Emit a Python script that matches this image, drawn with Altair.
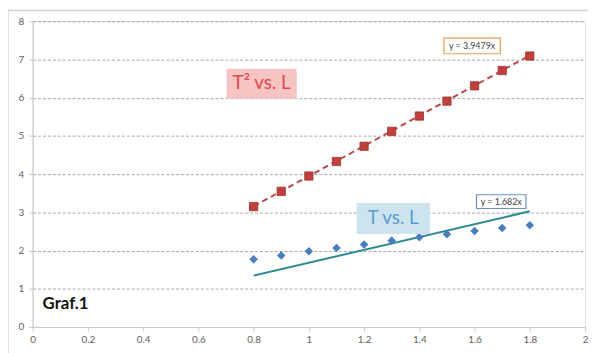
import altair as alt
import pandas as pd

L = [0.8, 0.9, 1.0, 1.1, 1.2, 1.3, 1.4, 1.5, 1.6, 1.7, 1.8]
T = [1.77, 1.87, 1.98, 2.07, 2.16, 2.26, 2.35, 2.43, 2.51, 2.59, 2.66]
T2 = [3.15, 3.55, 3.95, 4.33, 4.73, 5.12, 5.52, 5.91, 6.31, 6.71, 7.09]

slope_T = 1.682
slope_T2 = 3.9479
fit_x = [0.8, 1.8]

x_ticks = [0, 0.2, 0.4, 0.6, 0.8, 1, 1.2, 1.4, 1.6, 1.8, 2]
y_ticks = [0, 1, 2, 3, 4, 5, 6, 7, 8]

df = pd.DataFrame({"L": L, "T": T, "T2": T2})
fit = pd.DataFrame({"L": fit_x,
                    "fT": [slope_T * v for v in fit_x],
                    "fT2": [slope_T2 * v for v in fit_x]})

W, H = 560, 310
xs = alt.Scale(domain=[0, 2], nice=False)
ys = alt.Scale(domain=[0, 8], nice=False)

xaxis = alt.Axis(values=x_ticks,
                 labelExpr="datum.value == 0 ? '0' : datum.value == 1 ? '1' : datum.value == 2 ? '2' : format(datum.value, '.1f')",
                 grid=False, title=None, domainColor="#c8c8c8", tickColor="#c8c8c8",
                 tickSize=4, labelColor="#606060", labelFontSize=10, labelPadding=4,
                 labelFont="Lato", labelFlush=False, labelOverlap=False)
yaxis = alt.Axis(values=y_ticks, grid=True, gridDash=[3, 2], gridColor="#a8a8a8",
                 gridWidth=1, title=None, domainColor="#c8c8c8", tickColor="#c8c8c8",
                 tickSize=4, labelColor="#606060", labelFontSize=10, labelPadding=5,
                 labelFont="Lato", labelOverlap=False)


def X(field):
    return alt.X(field, scale=xs, axis=xaxis)


def Y(field):
    return alt.Y(field, scale=ys, axis=yaxis)


base = alt.Chart(df)

frame = alt.Chart(pd.DataFrame({"a": [0]})).mark_rect(
    fill=None, stroke="#d4d4d4", strokeWidth=1.5).encode(
    x=alt.value(-25), x2=alt.value(W + 30), y=alt.value(-11), y2=alt.value(H + 60))

line_T2 = alt.Chart(fit).mark_line(color="#b84a48", strokeWidth=2, strokeDash=[6, 4]).encode(
    x=X("L:Q"), y=Y("fT2:Q"))
line_T = alt.Chart(fit).mark_line(color="#2f8a96", strokeWidth=2).encode(
    x=X("L:Q"), y=Y("fT:Q"))

pts_T2 = base.mark_point(shape="square", filled=True, size=70, color="#c0403e", opacity=1,
                         stroke="#a03030", strokeWidth=0.8).encode(
    x=X("L:Q"), y=Y("T2:Q"))
pts_T = base.mark_point(shape="diamond", filled=True, size=75, color="#4a7ebf", opacity=1).encode(
    x=X("L:Q"), y=Y("T:Q"))

# annotation boxes (data units)
boxes = pd.DataFrame({
    "x1": [0.704, 1.175, 1.489, 1.607],
    "x2": [0.954, 1.436, 1.693, 1.786],
    "y1": [5.99, 2.45, 7.15, 3.10],
    "y2": [6.74, 3.23, 7.56, 3.46],
    "fill": ["#f7c4c4", "#cde4ef", "#ffffff", "#ffffff"],
    "stroke": ["#f7c4c4", "#cde4ef", "#e8a050", "#6d90c4"],
})
rects = alt.Chart(boxes).mark_rect(strokeWidth=1.2).encode(
    x=X("x1:Q"), x2="x2:Q",
    y=Y("y1:Q"), y2="y2:Q",
    fill=alt.Fill("fill:N", scale=None), stroke=alt.Stroke("stroke:N", scale=None))

labels = pd.DataFrame({
    "x": [0.829, 1.305, 1.591, 1.6965],
    "y": [6.37, 2.84, 7.355, 3.28],
    "text": ["T² vs. L", "T vs. L", "y = 3.9479x", "y = 1.682x"],
    "color": ["#e04848", "#5b9bd0", "#404040", "#404040"],
    "size": [19, 19, 9, 9],
})
texts = alt.Chart(labels).mark_text(font="Lato", baseline="middle", align="center").encode(
    x=X("x:Q"), y=Y("y:Q"), text="text:N",
    color=alt.Color("color:N", scale=None), size=alt.Size("size:Q", scale=None))

graf = alt.Chart(pd.DataFrame({"x": [0.036], "y": [0.59], "t": ["Graf.1"]})).mark_text(
    font="Lato", fontWeight="bold", fontSize=17, align="left", baseline="middle", color="#111111").encode(
    x=X("x:Q"), y=Y("y:Q"), text="t:N")

chart = alt.layer(frame, line_T2, line_T, pts_T2, pts_T, rects, texts, graf).properties(
    width=W, height=H,
    autosize=alt.AutoSizeParams(type="none"),
    padding={"left": 25, "top": 11, "right": 3, "bottom": 30},
).configure_view(stroke=None).configure(background="white")

chart.save("out.html", embed_options={"renderer": "svg", "actions": False})
